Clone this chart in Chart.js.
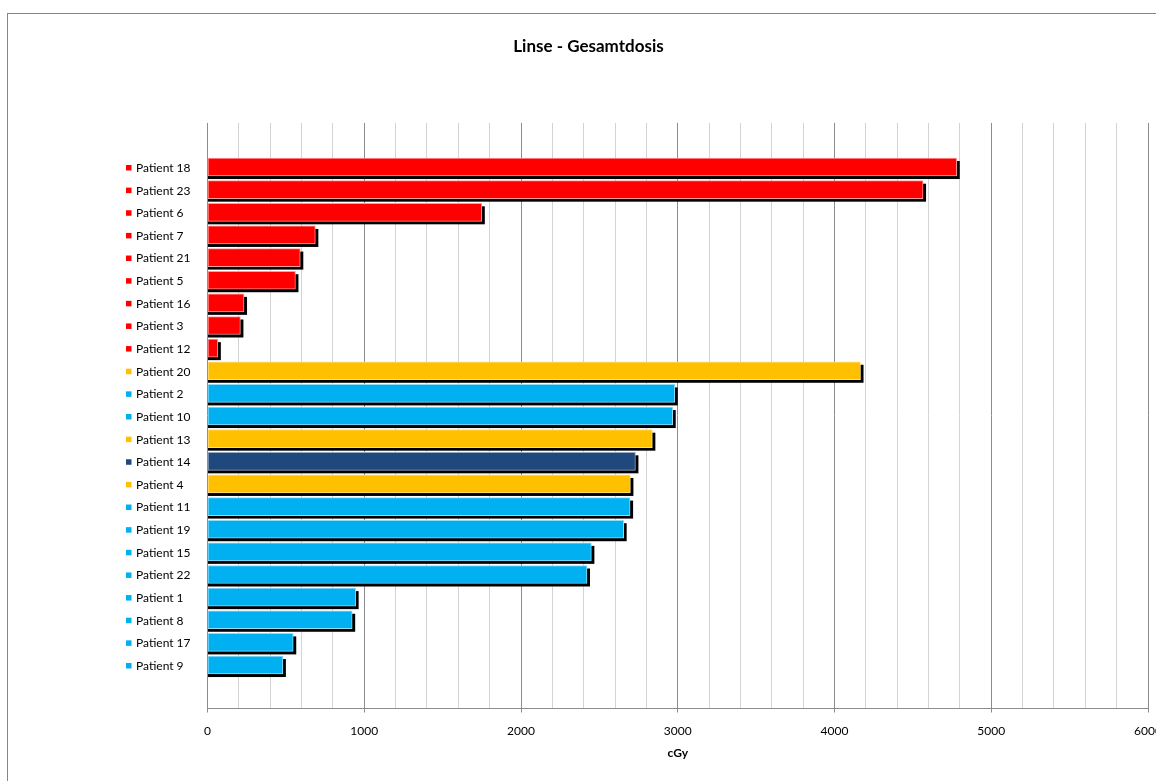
<!DOCTYPE html>
<html>
<head>
<meta charset="utf-8">
<script src="https://cdn.jsdelivr.net/npm/chart.js@4/dist/chart.umd.min.js"></script>
<style>
  html, body { margin: 0; padding: 0; background: #fff; overflow: hidden; width: 1156px; height: 781px; }
  #frame { position: absolute; left: 7px; top: 13px; width: 1300px; height: 900px; border: 1px solid #868686; }
  #chart { position: absolute; left: 0; top: 0; }
</style>
</head>
<body>
<div id="frame"></div>
<canvas id="chart" width="1200" height="781"></canvas>
<script>
const patients = [
    'Patient 18', 'Patient 23', 'Patient 6', 'Patient 7', 'Patient 21', 'Patient 5',
    'Patient 16', 'Patient 3', 'Patient 12', 'Patient 20', 'Patient 2', 'Patient 10',
    'Patient 13', 'Patient 14', 'Patient 4', 'Patient 11', 'Patient 19', 'Patient 15',
    'Patient 22', 'Patient 1', 'Patient 8', 'Patient 17', 'Patient 9'
];
const doses = [
    4780, 4565, 1750, 688, 592, 561,
    233, 210, 66, 4166, 2981, 2968,
    2838, 2730, 2698, 2696, 2655, 2449,
    2421, 945, 923, 547, 481
];
const groups = [
    'red', 'red', 'red', 'red', 'red', 'red',
    'red', 'red', 'red', 'yellow', 'blue', 'blue',
    'yellow', 'navy', 'yellow', 'blue', 'blue', 'blue',
    'blue', 'blue', 'blue', 'blue', 'blue'
];
const xTicks = { min: 0, max: 6000, step: 200, major: 1000 };

const fills = { red: '#ff0000', yellow: '#ffc000', blue: '#00b0f0', navy: '#1f497d' };
const edges = { red: '#ff9c9c', yellow: '#ffe08a', blue: '#93dcf7', navy: '#97abc6' };

Chart.defaults.font.family = 'Lato, "Open Sans", sans-serif';
Chart.defaults.color = '#000';

// black drop shadow under each bar, offset down and right
const barShadow = {
    id: 'barShadow',
    beforeDatasetsDraw(chart) {
        const ctx = chart.ctx;
        ctx.save();
        ctx.fillStyle = '#000';
        chart.getDatasetMeta(0).data.forEach(bar => {
            const { x, y, base, height } = bar.getProps(['x', 'y', 'base', 'height'], true);
            ctx.fillRect(base, y - height / 2 + 3, x - base + 3, height);
        });
        ctx.restore();
    }
};

// small coloured squares in front of the category labels
const labelSwatches = {
    id: 'labelSwatches',
    afterDraw(chart) {
        const ctx = chart.ctx;
        const yScale = chart.scales.y;
        ctx.save();
        patients.forEach((p, i) => {
            const py = yScale.getPixelForValue(i) + 0.7;
            ctx.fillStyle = fills[groups[i]];
            ctx.fillRect(yScale.left - 10, py - 2.75, 5.5, 5.5);
        });
        ctx.restore();
    }
};

const isMajor = ctx => ctx.tick && ctx.tick.value % xTicks.major === 0;

new Chart(document.getElementById('chart'), {
    type: 'bar',
    data: {
        datasets: [{
            data: doses.map((v, i) => ({ x: v, y: i })),
            backgroundColor: groups.map(g => fills[g]),
            borderColor: groups.map(g => edges[g]),
            borderWidth: 1,
            borderSkipped: false,
            barThickness: 18
        }]
    },
    options: {
        indexAxis: 'y',
        responsive: false,
        animation: false,
        layout: { padding: { left: 29, right: 52, top: 0, bottom: 22 } },
        plugins: {
            legend: { display: false },
            tooltip: { enabled: false },
            title: {
                display: true,
                text: 'Linse - Gesamtdosis',
                color: '#000',
                font: { size: 17, weight: 'bold', lineHeight: 1.2 },
                padding: { top: 36.5, bottom: 66 }
            }
        },
        scales: {
            x: {
                type: 'linear',
                position: 'bottom',
                min: xTicks.min,
                max: xTicks.max,
                grid: {
                    color: ctx => isMajor(ctx) ? '#8c8c8c' : '#d3d3d3',
                    tickColor: ctx => isMajor(ctx) ? '#8c8c8c' : 'rgba(0,0,0,0)',
                    tickLength: 4
                },
                border: { display: true, color: '#8c8c8c', width: 1 },
                ticks: {
                    stepSize: xTicks.step,
                    autoSkip: false,
                    maxRotation: 0,
                    padding: 13,
                    font: { size: 12, lineHeight: 1 },
                    callback: v => v % xTicks.major === 0 ? String(v) : ''
                },
                title: {
                    display: true,
                    text: 'cGy',
                    color: '#000',
                    font: { size: 12, weight: 'bold', lineHeight: 1 },
                    padding: { top: -3.5, bottom: 0 }
                }
            },
            y: {
                type: 'linear',
                position: 'left',
                reverse: true,
                offset: false,
                min: -1.95,
                max: 23.92,
                weight: 0,
                grid: { display: false },
                border: { display: false },
                afterBuildTicks: s => { s.ticks = patients.map((p, i) => ({ value: i })); },
                afterFit: s => { s.width = 71.5; },
                ticks: {
                    autoSkip: false,
                    crossAlign: 'far',
                    labelOffset: 1,
                    font: { size: 12 },
                    callback: v => patients[v]
                }
            },
            spacer: {
                type: 'linear',
                position: 'left',
                weight: 1,
                grid: { display: false },
                border: { display: false },
                ticks: { display: false },
                afterFit: s => { s.width = 107; }
            }
        }
    },
    plugins: [barShadow, labelSwatches]
});
</script>
</body>
</html>
